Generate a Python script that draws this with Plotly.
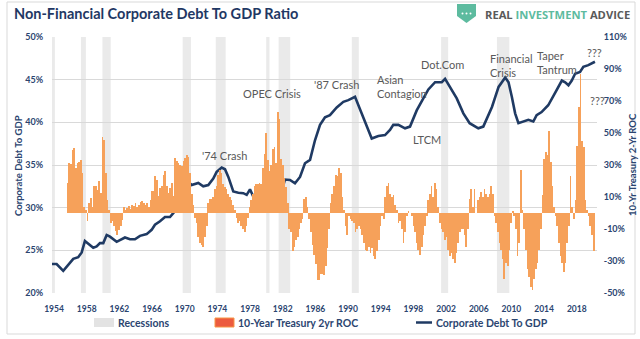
import numpy as np
import plotly.graph_objects as go

# ---------------- data ----------------
debt_year = [1954.16, 1954.76, 1955.56, 1956.37, 1956.77, 1957.37, 1957.79, 1958.18, 1958.58, 1959.19,
             1959.6, 1960.0, 1960.4, 1960.81, 1961.21, 1962.02, 1963.02, 1963.63, 1964.23, 1964.84,
             1965.65, 1966.25, 1966.65, 1967.26, 1967.86, 1968.47, 1968.86, 1969.47, 1970.07, 1970.68,
             1971.09, 1971.89, 1972.49, 1973.1, 1973.7, 1974.11, 1974.72, 1975.12, 1975.52, 1976.12,
             1976.73, 1977.33, 1977.74, 1978.14, 1978.54, 1979.14, 1979.75, 1980.56, 1980.96, 1981.25,
             1981.56, 1982.37, 1982.98, 1983.58, 1984.19, 1984.79, 1985.4, 1986.0, 1986.61, 1987.21,
             1987.81, 1988.63, 1989.43, 1990.03, 1990.84, 1991.24, 1992.05, 1992.86, 1993.66, 1994.47,
             1995.07, 1995.47, 1996.08, 1996.89, 1997.49, 1998.3, 1999.1, 1999.71, 2000.52, 2001.33,
             2001.73, 2002.33, 2003.14, 2003.94, 2004.7, 2005.75, 2006.35, 2007.4, 2008.2, 2009.0,
             2009.4, 2009.8, 2010.2, 2010.6, 2011.2, 2011.8, 2012.4, 2012.8, 2013.4, 2014.2,
             2015.0, 2015.85, 2016.25, 2016.65, 2017.05, 2017.45, 2018.05, 2018.45, 2019.05, 2019.85]
debt_pct = [23.4, 23.4, 22.6, 23.5, 24.0, 24.2, 24.75, 26.1, 25.8, 25.3,
            25.45, 25.85, 25.85, 26.8, 26.6, 26.0, 26.5, 26.3, 26.3, 26.7,
            26.9, 27.4, 28.0, 28.4, 28.9, 28.9, 29.35, 30.1, 31.7, 33.05,
            32.65, 32.9, 32.5, 32.65, 33.4, 34.2, 34.7, 34.5, 33.6, 31.9,
            31.75, 31.7, 31.5, 32.15, 31.3, 30.9, 31.2, 31.1, 30.7, 29.8,
            30.5, 33.3, 33.25, 32.85, 33.6, 35.2, 35.6, 37.9, 39.7, 40.6,
            40.85, 41.75, 42.4, 42.6, 43.0, 42.0, 39.9, 38.1, 38.4, 38.5,
            39.1, 39.7, 39.7, 39.3, 39.5, 41.4, 42.8, 43.85, 44.7, 44.7,
            45.1, 44.15, 42.8, 41.05, 39.9, 39.3, 39.5, 41.8, 44.15, 45.25,
            44.7, 43.0, 41.05, 39.9, 40.1, 40.3, 40.1, 40.85, 41.2, 42.0,
            43.4, 44.9, 44.7, 44.35, 44.9, 45.7, 45.9, 46.5, 46.7, 47.1]

roc_start = 1956.1
roc_step = 0.2
roc_pct = [
    # 1956.1 - 1970.7
    18.6, 31, 30.4, 39.4, 40.5, 28, 31, 32, 33, 25, 4, 2, -5.3, 6, 9.4, 4, 17, 16.6, 14.5, 19.7,
    12.5, 47.3, 45.7, 25, 8.3, 2, -6.3, -5.3, -8.3, -11.5, -13.5, -10.4, -8.3, -4.2, 4, 2, 3, 4.6, 2.5, 5.2,
    4.2, 6.2, 4, 5, 6.7, 7.3, 6.2, 5.2, 6.2, 4, 8.3, 13.5, 13.5, 22.9, 20.8, 10.4, 15.6, 16.6, 24, 26,
    16.6, 12.5, 15.6, 18.7, 10.4, 34.3, 32.2, 31.2, 30.2, 29.1, 32.2, 34.3, 36.3, 35.3,
    # 1970.9 - 1987.7
    25, 12, 5, -3, -6, -15, -19, -20, -21, -15, -8, 6, 9, 9, 10, 15, 17, 24, 27, 25,
    18, 16, 15, 12, 10, 8, 5, 2, -3, -6, -5, -8, -10, -12, -8, -3, 4, 8, 12, 17,
    18, 18, 19, 18, 28, 37, 50, 33, 26, 30, 40, 41, 31, 63, 59, 34, 30, 22, 16, 6,
    -10, -12, -24, -21, -17, -15, -10, -6, -4, 9, 10, 4, -4, -12, -20, -26, -32, -42, -42, -38,
    -38, -39, -33, -22, -10,
    # 1987.9 - 2004.5
    6, 12, 17, 24, 23, 28, 25, 10, 2, -8, -14, -2, -4, -5, -6, -12, -10, -8, -10, -14,
    -19, -23, -24, -21, -25, -22, -27, -29, -24, -17, -8, -2, -4, 10, 17, 19, 12, 10, 11, 5,
    2, -6, -5, -10, -19, -12, -2, 1, 0, -2, -8, -12, -19, -23, -26, -21, -14, -8, -2, 8,
    12, 17, 10, 19, 15, 4, -6, -10, -12, -17, -15, -23, -27, -25, -29, -31, -25, -19, -12, -10,
    -10, -14, -21, -10,
    # 2004.7 - 2019.7
    9, 15, 4, 15, 0, 8, 10, 13, 10, 15, 12, 10, 12, 17, 12, -2, -6, -12, -19, -23,
    -29, -41, -31, -33, -23, -6, 1, -2, -10, -27, -19, 27, 2, -10, -23, -35, -40, -46, -48, -41,
    -35, -31, -23, -10, 11, 34, 38, 36, 51, 32, 17, 4, -2, -8, -19, -27, -31, -37, -31, -19,
    -8, 23, 4, -4, 8, 42, 66, 87, 45, 41, 8, 2, -2, -8, -14, -24,
]
roc_year = [round(roc_start + roc_step * i, 2) for i in range(len(roc_pct))]

rec_start = [1953.6, 1957.7, 1960.3, 1970.0, 1974.0, 1980.1, 1981.6, 1990.45, 2001.25, 2008.0]
rec_end = [1954.55, 1958.3, 1961.3, 1971.0, 1975.2, 1980.5, 1983.0, 1991.3, 2002.1, 2009.5]

year_labels = list(range(1954, 2019, 4))
left_ticks = [20, 25, 30, 35, 40, 45, 50]
right_ticks = [-50, -30, -10, 10, 30, 50, 70, 90, 110]

events = [
    ("'74 Crash", 224, 155, "center"),
    ("OPEC Crisis", 272, 93, "center"),
    ("'87 Crash", 336, 84, "center"),
    ("Asian<br>Contagion", 375, 86, "left"),
    ("LTCM", 427, 139, "center"),
    ("Dot.Com", 442, 64, "center"),
    ("Financial<br>Crisis", 488, 65, "left"),
    ("Taper<br>Tantrum", 535, 62.5, "left"),
    ("???", 594, 52, "center"),
    ("???", 597, 100, "center"),
]

# ---------------- layout helpers ----------------
W, H = 640, 339
L, R, T, B = 52, 43, 37, 46
PW, PH = W - L - R, H - T - B
XR = [1954.2, 2020.1]


def fx(px):
    return (px - L) / PW


def fy(py):
    return (H - B - py) / PH


NAVY = "#1F3864"
LABEL = "#2B4570"
ORANGE = "#F6A15A"
FONT = "Lato, Carlito, Calibri, sans-serif"

fig = go.Figure()

fig.add_trace(go.Bar(x=roc_year, y=roc_pct, yaxis="y2", width=0.095,
                     marker=dict(color=ORANGE, line=dict(width=0)),
                     showlegend=False, hoverinfo="skip"))
fig.add_trace(go.Scatter(x=debt_year, y=debt_pct, mode="lines",
                         line=dict(color="#1F3A63", width=2.6, shape="linear"),
                         showlegend=False, hoverinfo="skip"))
# invisible trace carrying the label axis
fig.add_trace(go.Scatter(x=[year_labels[0]], y=[30], xaxis="x2", mode="markers",
                         marker=dict(opacity=0), showlegend=False, hoverinfo="skip"))

shapes = []
for s, e in zip(rec_start, rec_end):
    shapes.append(dict(type="rect", xref="x", yref="paper", x0=max(s, XR[0]), x1=e, y0=0, y1=1,
                       fillcolor="#EAEAEA", line=dict(width=0), layer="below"))

# outer border
shapes.append(dict(type="rect", xref="paper", yref="paper", x0=fx(7), x1=fx(635), y0=fy(2), y1=fy(334),
                   line=dict(color="#D9D9D9", width=1), fillcolor="rgba(0,0,0,0)", layer="below"))

# logo shield
sx0, sx1, sy0, sy1, sy2 = 457, 476, 4, 16, 23
path = (f"M {fx(sx0)},{fy(sy0)} L {fx(sx1)},{fy(sy0)} L {fx(sx1)},{fy(sy1)} "
        f"L {fx((sx0 + sx1) / 2)},{fy(sy2)} L {fx(sx0)},{fy(sy1)} Z")
shapes.append(dict(type="path", xref="paper", yref="paper", path=path,
                   fillcolor="#5DBB9F", line=dict(width=0)))
for cx in (462.5, 466.5, 470.5):
    shapes.append(dict(type="circle", xref="paper", yref="paper",
                       x0=fx(cx - 1), x1=fx(cx + 1), y0=fy(12.5), y1=fy(14.5),
                       fillcolor="white", line=dict(width=0)))

# legend swatches
shapes.append(dict(type="rect", xref="paper", yref="paper", x0=fx(94), x1=fx(114), y0=fy(318), y1=fy(327),
                   fillcolor="#E3E3E3", line=dict(width=0)))
shapes.append(dict(type="rect", xref="paper", yref="paper", x0=fx(215), x1=fx(234), y0=fy(318), y1=fy(327),
                   fillcolor="#EC5B3F", line=dict(color="#F79646", width=1)))
shapes.append(dict(type="line", xref="paper", yref="paper", x0=fx(416), x1=fx(432), y0=fy(322.5), y1=fy(322.5),
                   line=dict(color="#1F3A63", width=2.5)))

annotations = []
annotations.append(dict(text="<b>Non-Financial Corporate Debt To GDP Ratio</b>", xref="paper", yref="paper",
                        x=fx(12), y=fy(13), xanchor="left", yanchor="middle", showarrow=False,
                        font=dict(family=FONT, size=14.5, color=NAVY)))
annotations.append(dict(text="<b><span style='color:#5A5A5A'>REAL </span><span style='color:#5DBB9F'>INVESTMENT</span>"
                             "<span style='color:#5A5A5A'> ADVICE</span></b>",
                        xref="paper", yref="paper", x=fx(483), y=fy(14), xanchor="left", yanchor="middle",
                        showarrow=False, font=dict(family="Open Sans, sans-serif", size=11.2, color="#5A5A5A")))
for txt, px, py, al in events:
    annotations.append(dict(text=txt, xref="paper", yref="paper", x=fx(px), y=fy(py),
                            xanchor=al, yanchor="middle", align=al, showarrow=False,
                            font=dict(family=FONT, size=11, color="#595959")))
annotations.append(dict(text="<b>Corporate Debt To GDP</b>", xref="paper", yref="paper", x=fx(18), y=fy(166),
                        textangle=-90, showarrow=False, xanchor="center", yanchor="middle",
                        font=dict(family=FONT, size=9.5, color=LABEL)))
annotations.append(dict(text="<b>10-Yr Treasury 2-Yr ROC</b>", xref="paper", yref="paper", x=fx(632), y=fy(165),
                        textangle=-90, showarrow=False, xanchor="center", yanchor="middle",
                        font=dict(family=FONT, size=9.5, color=LABEL)))
for txt, px in (("Recessions", 116), ("10-Year Treasury 2yr ROC", 236), ("Corporate Debt To GDP", 434)):
    annotations.append(dict(text=f"<b>{txt}</b>", xref="paper", yref="paper", x=fx(px), y=fy(323),
                            xanchor="left", yanchor="middle", showarrow=False,
                            font=dict(family=FONT, size=10.5, color=LABEL)))

fig.update_layout(
    width=W, height=H, margin=dict(l=L, r=R, t=T, b=B, pad=0),
    paper_bgcolor="white", plot_bgcolor="white",
    showlegend=False, bargap=0,
    xaxis=dict(range=XR, showticklabels=False, showgrid=False, zeroline=False, ticks="", showline=False),
    xaxis2=dict(range=[1953.75, 2020.48], overlaying="x", anchor="y", side="bottom",
                tickvals=year_labels, ticktext=[f"<b>{v}</b>" for v in year_labels],
                showgrid=False, zeroline=False, showline=False,
                ticks="outside", ticklen=8, tickcolor="rgba(0,0,0,0)",
                tickfont=dict(family=FONT, size=8.5, color=LABEL)),
    yaxis=dict(range=[20, 50], tickvals=left_ticks, ticktext=[f"<b>{v}%</b>" for v in left_ticks],
               showgrid=True, gridcolor="#D9D9D9",
               gridwidth=1, zeroline=False, showline=False, ticks="outside", ticklen=6,
               tickcolor="rgba(0,0,0,0)", tickfont=dict(family=FONT, size=9, color=LABEL)),
    yaxis2=dict(range=[-50, 110], tickvals=right_ticks, ticktext=[f"<b>{v}%</b>" for v in right_ticks],
                overlaying="y", side="right", showgrid=False, zeroline=False, showline=False,
                ticks="outside", ticklen=4, tickcolor="rgba(0,0,0,0)",
                tickfont=dict(family=FONT, size=9, color=LABEL)),
    shapes=shapes, annotations=annotations,
)

fig.write_html("out.html")
